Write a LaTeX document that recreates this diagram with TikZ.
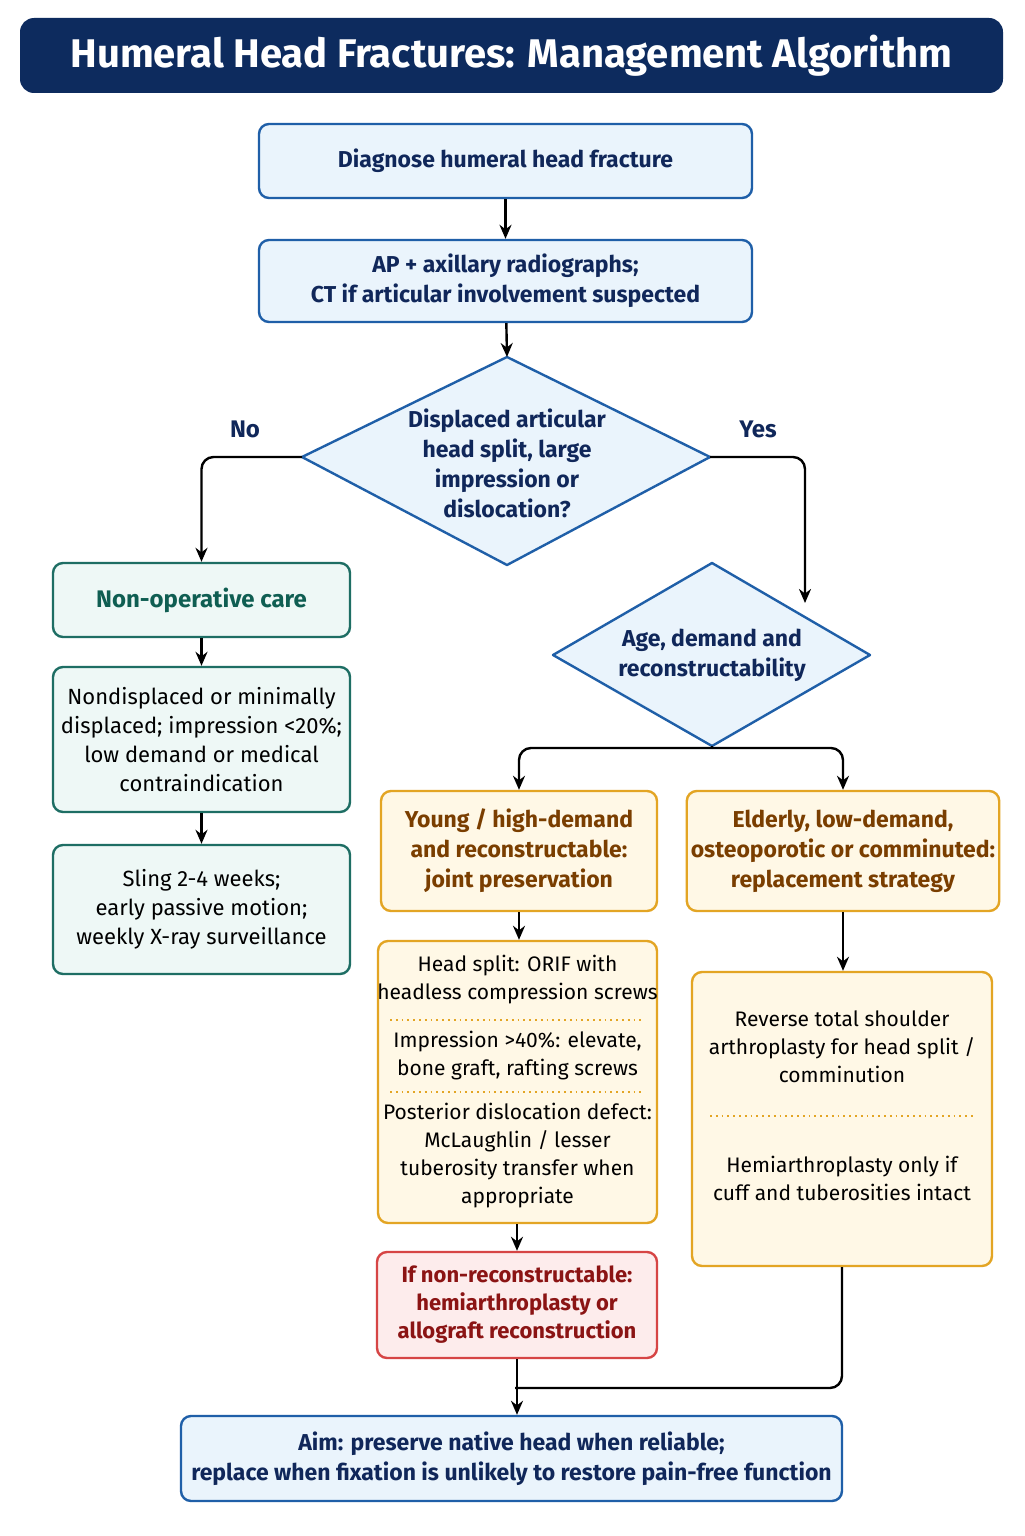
\documentclass[tikz,border=0pt]{standalone}
\usepackage{fontspec}
\setmainfont{Fira Sans}
\usetikzlibrary{arrows.meta}
\definecolor{navy}{HTML}{0D2B5E}
\definecolor{bluebd}{HTML}{1F5FA8}
\definecolor{bluefill}{HTML}{EAF4FC}
\definecolor{bluetxt}{HTML}{10275A}
\definecolor{tealbd}{HTML}{1E6E64}
\definecolor{tealfill}{HTML}{EEF8F6}
\definecolor{tealtxt}{HTML}{0F5E52}
\definecolor{orbd}{HTML}{E3A524}
\definecolor{orfill}{HTML}{FFF8E6}
\definecolor{ortxt}{HTML}{7A3E00}
\definecolor{redbd}{HTML}{D64545}
\definecolor{redfill}{HTML}{FDECEC}
\definecolor{redtxt}{HTML}{8B1414}
\tikzset{
 box/.style={draw, line width=1.2pt, rounded corners=5pt, align=center, inner sep=2pt, font=\fontsize{11}{14.5}\selectfont},
 bluebox/.style={box, draw=bluebd, fill=bluefill, text=bluetxt, font=\fontsize{11.5}{15}\selectfont\bfseries},
 tealhead/.style={box, draw=tealbd, fill=tealfill, text=tealtxt, font=\fontsize{12}{15}\selectfont\bfseries},
 tealbox/.style={box, draw=tealbd, fill=tealfill, text=black},
 orhead/.style={box, draw=orbd, fill=orfill, text=ortxt, font=\fontsize{11.5}{15}\selectfont\bfseries},
 orbox/.style={box, draw=orbd, fill=orfill, text=black},
 redbox/.style={box, draw=redbd, fill=redfill, text=redtxt, font=\fontsize{11}{14}\selectfont\bfseries},
 dia/.style={draw=bluebd, fill=bluefill, line width=1.2pt, line join=round},
 diatxt/.style={align=center, text=bluetxt, font=\fontsize{11.5}{15}\selectfont\bfseries},
 conn/.style={draw, line width=1.2pt, rounded corners=6pt},
 arr/.style={conn, -{Stealth[length=7pt,width=6pt]}},
 sep/.style={draw=orbd, dotted, line width=0.9pt},
 txt/.style={align=center, font=\fontsize{10.5}{14}\selectfont},
 lab/.style={text=bluetxt, font=\fontsize{12}{14}\selectfont\bfseries}
}
\begin{document}
\begin{tikzpicture}[x=0.5pt,y=-0.5pt]
\useasboundingbox (0,0) rectangle (1024,1536);
\fill[white] (0,0) rectangle (1024,1536);
\node[fill=navy, rounded corners=7pt, minimum width=491.5pt, minimum height=37.5pt, text=white, font=\fontsize{20}{24}\selectfont\bfseries] (title) at (511.5,55.5) {Humeral Head Fractures: Management Algorithm};
\node[bluebox, minimum width=246.5pt, minimum height=37pt] (b1) at (505.5,161) {Diagnose humeral head fracture};
\node[bluebox, minimum width=246.5pt, minimum height=41pt] (b2) at (505.5,281) {AP + axillary radiographs;\\CT if articular involvement suspected};
% diamond 1
\draw[dia] (302,457) coordinate (d1l) -- (507,357) coordinate (d1t) -- (710,457) coordinate (d1r) -- (507,565) coordinate (d1b) -- cycle;
\node[diatxt] (d1) at (507,463) {Displaced articular\\head split, large\\impression or\\dislocation?};
\node[lab] (no) at (245,429) {No};
\node[lab] (yes) at (758,429) {Yes};
% diamond 2
\draw[dia] (553,655) coordinate (d2l) -- (712,563) coordinate (d2t) -- (870,655) coordinate (d2r) -- (712,746) coordinate (d2b) -- cycle;
\node[diatxt] (d2) at (712,655) {Age, demand and\\reconstructability};
% left column
\node[tealhead, minimum width=148.5pt, minimum height=37pt] (nonop) at (201.5,600) {Non-operative care};
\node[tealbox, minimum width=148.5pt, minimum height=72.5pt] (nd) at (201.5,739.5) {Nondisplaced or minimally\\displaced; impression <20\%;\\low demand or medical\\contraindication};
\node[tealbox, minimum width=148.5pt, minimum height=64.5pt] (sling) at (201.5,909.5) {Sling 2-4 weeks;\\early passive motion;\\weekly X-ray surveillance};
% right columns
\node[orhead, minimum width=138pt, minimum height=60pt] (young) at (519,851) {Young / high-demand\\and reconstructable:\\joint preservation};
\node[orhead, minimum width=149pt, minimum height=60pt] (old) at (843,851) {Elderly, low-demand,\\osteoporotic or comminuted:\\replacement strategy};
\node[orbox, minimum width=139.5pt, minimum height=141pt] (hs) at (517.5,1082) {};
\node[txt] (hs1) at (517.5,980) {Head split: ORIF with\\headless compression screws};
\node[txt] (hs2) at (517.5,1056) {Impression >40\%: elevate,\\bone graft, rafting screws};
\node[txt] (hs3) at (517.5,1156) {Posterior dislocation defect:\\McLaughlin / lesser\\tuberosity transfer when\\appropriate};
\draw[sep] (390,1020) -- (645,1020);
\draw[sep] (390,1092) -- (645,1092);
\node[redbox, minimum width=140pt, minimum height=53pt] (red) at (517,1305) {If non-reconstructable:\\hemiarthroplasty or\\allograft reconstruction};
\node[orbox, minimum width=150pt, minimum height=147pt] (rt) at (842,1119) {};
\node[txt] (rt1) at (842,1047) {Reverse total shoulder\\arthroplasty for head split /\\comminution};
\node[txt] (rt2) at (842,1178) {Hemiarthroplasty only if\\cuff and tuberosities intact};
\draw[sep] (710,1116) -- (975,1116);
\node[bluebox, minimum width=330.5pt, minimum height=42.5pt] (final) at (511.5,1458.5) {Aim: preserve native head when reliable;\\replace when fixation is unlikely to restore pain-free function};
% connectors
\draw[arr] (b1) -- (b2);
\draw[arr] (b2) -- (d1t);
\draw[arr] (d1l) -| (nonop.north);
\coordinate (yend) at (805,603);
\draw[arr] (d1r) -| (yend);
\draw[arr] (nonop) -- (nd);
\draw[arr] (nd) -- (sling);
\draw[conn] (d2b) -- (712,748);
\draw[arr] (712,748) -| (young.north);
\draw[arr] (712,748) -| (old.north);
\draw[arr] (young.south) -- (hs.north -| young.south);
\draw[arr] (old.south) -- (rt.north -| old.south);
\draw[arr] (hs.south -| red.north) -- (red.north);
\draw[arr] (red.south) -- (final.north -| red.south);
\coordinate (m) at (515,1388);
\draw[conn] (rt.south) |- (m);
\end{tikzpicture}
\end{document}
